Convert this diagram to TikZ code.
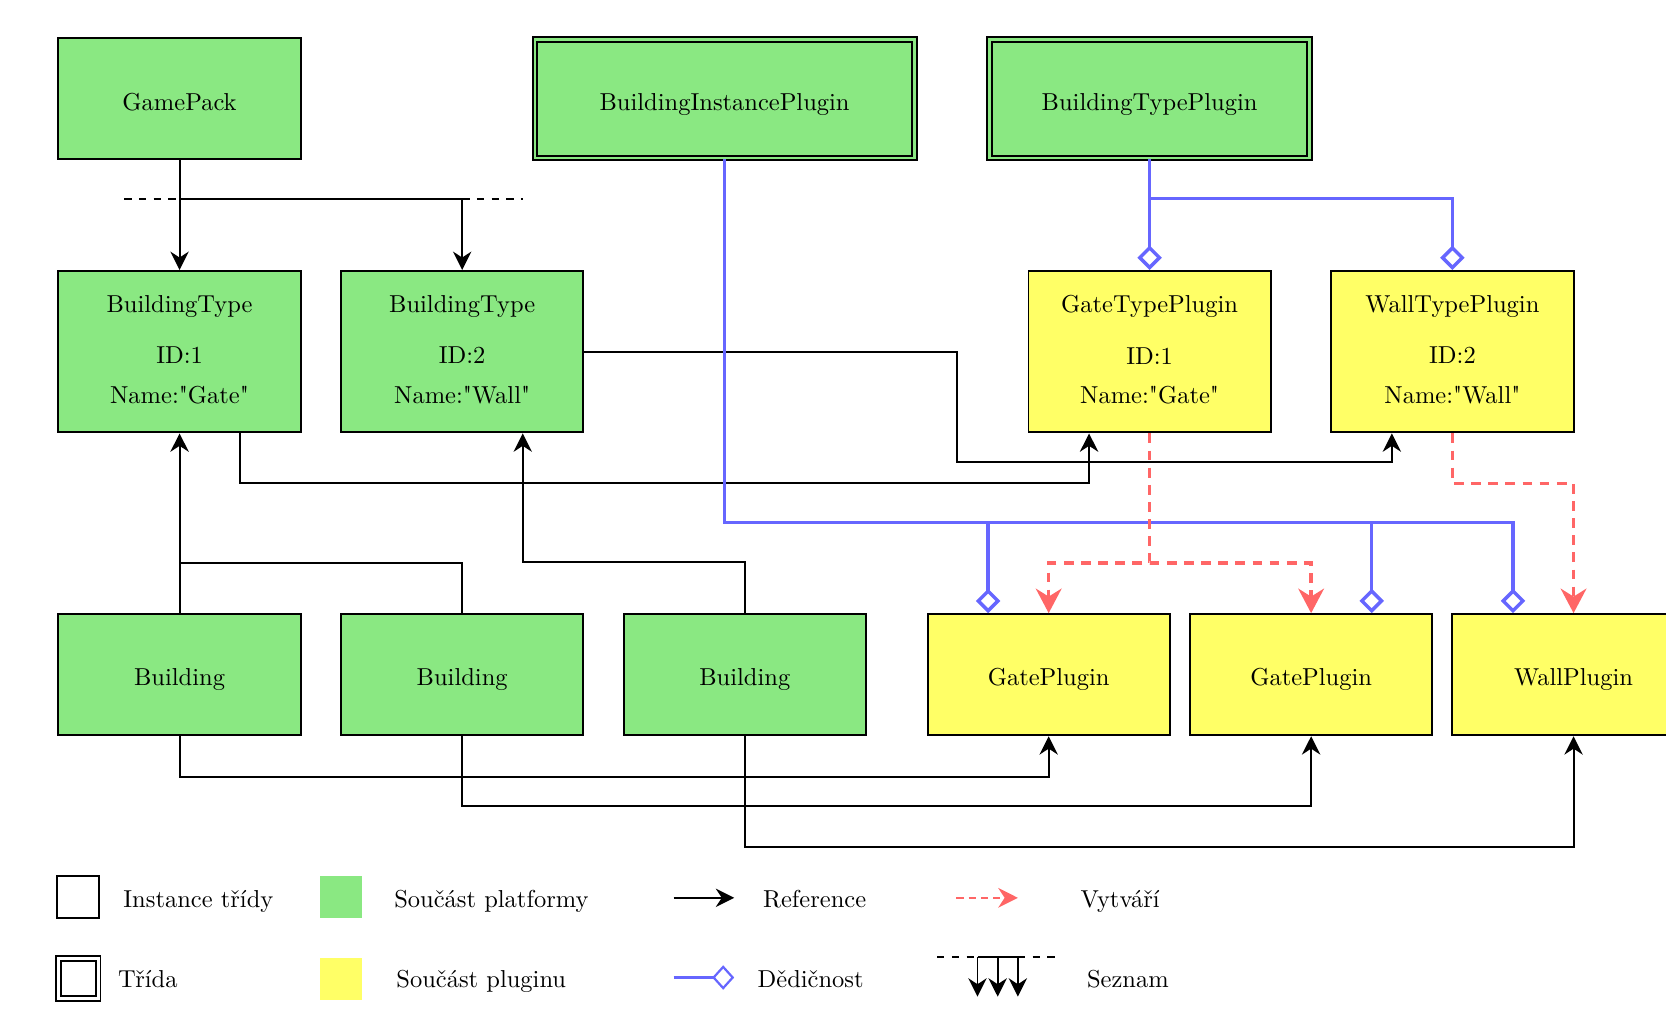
\documentclass[tikz,border=0pt]{standalone}
\usetikzlibrary{arrows.meta,calc}
\definecolor{plat}{RGB}{138,232,130}
\definecolor{plug}{RGB}{255,255,102}
\definecolor{inh}{RGB}{102,102,255}
\definecolor{cre}{RGB}{255,102,102}
\font\plq="[lmroman10-regular]" at 10pt
\newcommand{\sq}{{\plq\char"22}}
\begin{document}
\begin{tikzpicture}[x=0.015244cm,y=-0.015244cm,
  base/.style={draw=black,line width=0.8pt,minimum width=3.476cm,inner sep=0pt,align=center},
  box/.style={base,minimum height=1.738cm,text height=9.2pt,text depth=0pt},
  tall/.style={base,minimum height=2.317cm,text depth=2pt},
  platf/.style={fill=plat},
  plugf/.style={fill=plug},
  cls/.style={draw=black,line width=0.8pt,fill=plat,double=plat,double distance=1.1pt,inner sep=0pt,minimum height=1.70cm,text height=9.2pt,text depth=0pt},
  conn/.style={line width=0.8pt},
  refa/.style={conn,-{Stealth[length=7.5pt,width=7.5pt]}},
  inhs/.style={draw=inh,line width=1.4pt,-{Diamond[open,length=10pt,width=10pt]}},
  cres/.style={draw=cre,line width=1.4pt,dash pattern=on 4pt off 3pt,-{Stealth[length=10pt,width=10.5pt]}},
  lgtxt/.style={anchor=base west},
  lgsq/.style={minimum width=0.602cm,minimum height=0.602cm,inner sep=0pt}
]
\useasboundingbox (0,0) rectangle (1568,973);

% row 1
\node[box,platf] (gp) at (169,93) {GamePack};
\node[cls,minimum width=5.44cm] (bip) at (682,93) {BuildingInstancePlugin};
\node[cls,minimum width=4.59cm] (btp) at (1082,93) {BuildingTypePlugin};

% row 2
\node[tall,platf] (bt1) at (169,331) {BuildingType\\[9pt]ID:1\\[4pt]Name:\sq Gate\sq};
\node[tall,platf] (bt2) at (435,331) {BuildingType\\[9pt]ID:2\\[4pt]Name:\sq Wall\sq};
\node[tall,plugf] (gtp) at (1082,331) {GateTypePlugin\\[9pt]ID:1\\[4pt]Name:\sq Gate\sq};
\node[tall,plugf] (wtp) at (1367,331) {WallTypePlugin\\[9pt]ID:2\\[4pt]Name:\sq Wall\sq};

% row 3
\node[box,platf] (b1) at (169,635) {Building};
\node[box,platf] (b2) at (435,635) {Building};
\node[box,platf] (b3) at (701,635) {Building};
\node[box,plugf] (gp1) at (987,635) {GatePlugin};
\node[box,plugf] (gp2) at (1234,635) {GatePlugin};
\node[box,plugf] (wp) at (1481,635) {WallPlugin};

% list GamePack -> BuildingTypes
\coordinate (lj) at (169,187);
\coordinate (lr) at (435,187);
\coordinate (ll) at (117,187);
\coordinate (lre) at (492,187);
\draw[conn,dashed] (ll) -- (lj);
\draw[conn,dashed] (lr) -- (lre);
\draw[refa] (gp.south) -- (bt1.north);
\draw[refa] (lj) -- (lr) -- (bt2.north);

% references type -> type plugin
\draw[refa] ($(bt1.south)+(57,0)$) -- ++(0,47) -| ($(gtp.south)+(-57,0)$);
\coordinate (k1) at (901,331);
\draw[refa] (bt2.east) -- (k1) -- ++(0,104) -| ($(wtp.south)+(-57,0)$);

% building -> building type
\coordinate (j1) at (169,530);
\draw[refa] (b1.north) -- (bt1.south);
\draw[conn] (b2.north) |- (j1);
\draw[refa] (b3.north) -- ++(0,-48) -| ($(bt2.south)+(57,0)$);

% building -> plugin instance
\draw[refa] (b1.south) -- ++(0,38) -| (gp1.south);
\draw[refa] (b2.south) -- ++(0,66) -| (gp2.south);
\draw[refa] (b3.south) -- ++(0,104) -| (wp.south);

% inheritance
\coordinate (bj) at (1082,187);
\draw[inhs] (btp.south) -- (gtp.north);
\draw[inhs] (bj) -| (wtp.north);
\coordinate (ij1) at (930,492);
\coordinate (ij2) at (1291,492);
\draw[inhs] (bip.south) |- (1424,492) -- ($(wp.north)+(-57,0)$);
\draw[inhs] (ij1) -- ($(gp1.north)+(-57,0)$);
\draw[inhs] (ij2) -- ($(gp2.north)+(57,0)$);

% creates
\coordinate (cj) at (1082,530);
\draw[cres] (gtp.south) -- (cj) -| (gp1.north);
\draw[cres] (cj) -| (gp2.north);
\draw[cres] (wtp.south) -- ++(0,47) -| (wp.north);

% legend row 1
\node[lgsq,draw,line width=0.8pt] (li) at (73.7,844.4) {};
\node[lgtxt] (lit) at (108,853.8) {Instance třídy};
\node[lgsq,fill=plat] (lp) at (321,844.4) {};
\node[lgtxt] (lpt) at (363,853.8) {Součást platformy};
\coordinate (la1) at (634,845);
\coordinate (la2) at (691,845);
\draw[refa] (la1) -- (la2);
\node[lgtxt] (lat) at (710,853.8) {Reference};
\coordinate (lc1) at (900,845);
\coordinate (lc2) at (958,845);
\draw[draw=cre,line width=1pt,dash pattern=on 3pt off 2pt,-{Stealth[length=8pt,width=8pt]}] (lc1) -- (lc2);
\node[lgtxt] (lct) at (1009,853.8) {Vytváří};

% legend row 2
\node[lgsq,draw,line width=0.8pt,double=white,double distance=1.1pt,minimum width=0.57cm,minimum height=0.57cm] (lk) at (73.7,920.8) {};
\node[lgtxt] (lkt) at (103,929.6) {Třída};
\node[lgsq,fill=plug] (ly) at (321,921) {};
\node[lgtxt] (lyt) at (365,929.6) {Součást pluginu};
\coordinate (ld1) at (634,920);
\coordinate (ld2) at (691,920);
\draw[draw=inh,line width=0.9pt,-{Diamond[open,length=9pt,width=10pt]}] (ld1) -- (ld2);
\node[lgtxt] (ldt) at (705,929.6) {Dědičnost};
\coordinate (ls1) at (882,901);
\coordinate (ls2) at (920,901);
\coordinate (ls3) at (939,901);
\coordinate (ls4) at (958,901);
\coordinate (ls5) at (997,901);
\draw[conn,dashed] (ls1) -- (ls2);
\draw[conn,dashed] (ls4) -- (ls5);
\draw[conn] (ls2) -- (ls4);
\draw[refa] (ls2) -- ++(0,37);
\draw[refa] (ls3) -- ++(0,37);
\draw[refa] (ls4) -- ++(0,37);
\node[lgtxt] (lst) at (1015,929.6) {Seznam};
\end{tikzpicture}
\end{document}
